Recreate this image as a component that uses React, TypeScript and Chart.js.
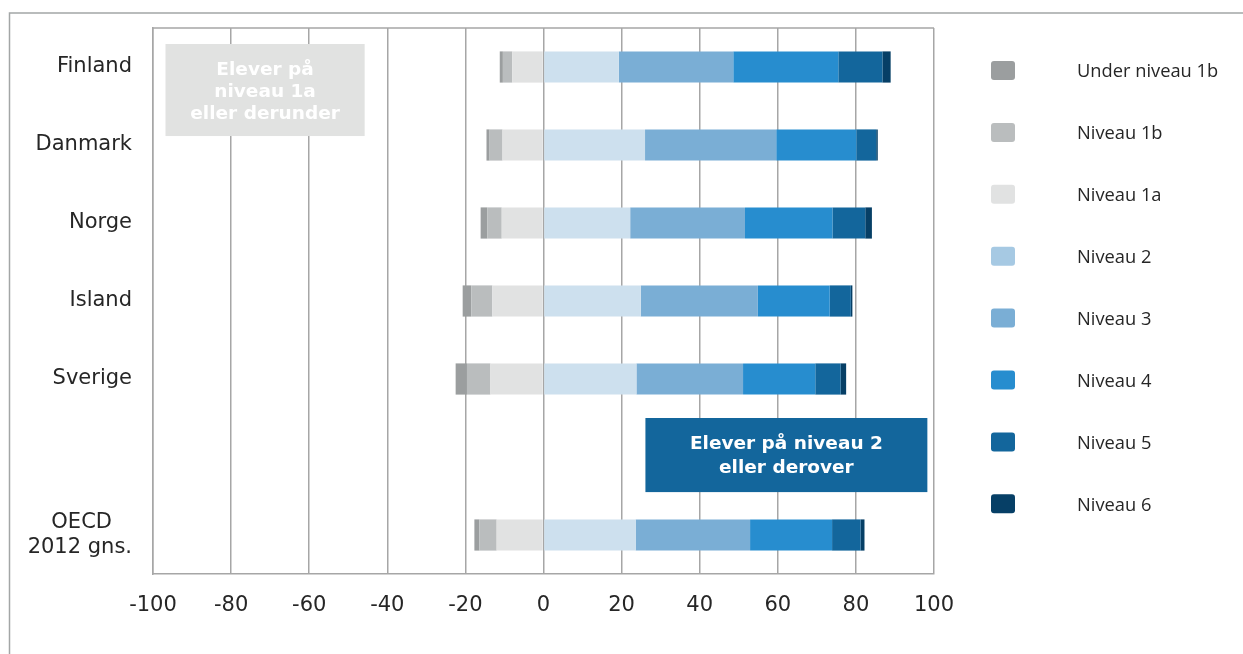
import React, { useEffect, useRef } from "react";
import { Chart, registerables } from "chart.js";

Chart.register(...registerables);

// ---- Data ----
const categories: (string | string[])[] = [
  "Finland",
  "Danmark",
  "Norge",
  "Island",
  "Sverige",
  "",
  ["OECD   ", "2012 gns."],
];

const underNiveau1b = [-0.8, -0.8, -1.7, -2.2, -2.9, null, -1.3];
const niveau1b = [-2.4, -3.3, -3.7, -5.4, -6.0, null, -4.4];
const niveau1a = [-8.0, -10.5, -10.7, -13.1, -13.6, null, -12.0];
const niveau2 = [19.3, 26.0, 22.2, 24.9, 23.8, null, 23.6];
const niveau3 = [29.3, 33.6, 29.4, 30.0, 27.3, null, 29.3];
const niveau4 = [26.9, 20.5, 22.4, 18.4, 18.5, null, 21.0];
const niveau5 = [11.3, 5.1, 8.4, 5.4, 6.5, null, 7.3];
const niveau6 = [2.1, 0.4, 1.7, 0.4, 1.4, null, 1.0];

const seriesLabels = [
  "Under niveau 1b",
  "Niveau 1b",
  "Niveau 1a",
  "Niveau 2",
  "Niveau 3",
  "Niveau 4",
  "Niveau 5",
  "Niveau 6",
];

const xTickValues = [-100, -80, -60, -40, -20, 0, 20, 40, 60, 80, 100];

const annotationLow = ["Elever på", "niveau 1a", "eller derunder"];
const annotationHigh = ["Elever på niveau 2", "eller derover"];

// ---- Styles ----
const barColors = [
  "#9b9e9f",
  "#babdbe",
  "#e1e2e2",
  "#cde0ee",
  "#7aaed5",
  "#278dcf",
  "#13669c",
  "#063f66",
];
const legendColors = [
  "#9b9e9f",
  "#babdbe",
  "#e1e2e2",
  "#a6c9e3",
  "#7aaed5",
  "#278dcf",
  "#13669c",
  "#063f66",
];
// stacking order: negatives stack outward from 0 (1a nearest zero)
const stackOrder = [2, 1, 0, 3, 4, 5, 6, 7];

const GRID = "#a6a6a6";
const TEXT = "#262626";

const decorPlugin = {
  id: "decor",
  beforeDraw(chart: any) {
    const ctx = chart.ctx;
    ctx.save();
    ctx.fillStyle = "#ffffff";
    ctx.fillRect(0, 0, chart.width, chart.height);
    ctx.strokeStyle = "#a3a6a6";
    ctx.lineWidth = 1.5;
    ctx.beginPath();
    ctx.moveTo(9.5, chart.height);
    ctx.lineTo(9.5, 13);
    ctx.lineTo(chart.width, 13);
    ctx.stroke();
    ctx.restore();
  },
  beforeDatasetsDraw(chart: any) {
    const ctx = chart.ctx;
    const { left, right, top } = chart.chartArea;
    const xs = chart.scales.x;
    const ys = chart.scales.y;
    ctx.save();
    ctx.strokeStyle = GRID;
    ctx.lineWidth = 1.5;
    ctx.beginPath();
    ctx.moveTo(left, top);
    ctx.lineTo(right, top);
    ctx.stroke();

    const boxes = [
      { x0: -96.8, x1: -45.8, y0: -0.295, y1: 0.885, fill: "#e1e2e1", lines: annotationLow, lh: 22, dy: 2 },
      { x0: 26.1, x1: 98.3, y0: 4.5, y1: 5.45, fill: "#13669c", lines: annotationHigh, lh: 24, dy: 1.5 },
    ];
    boxes.forEach((b) => {
      const px0 = xs.getPixelForValue(b.x0);
      const px1 = xs.getPixelForValue(b.x1);
      const py0 = ys.getPixelForValue(b.y0);
      const py1 = ys.getPixelForValue(b.y1);
      ctx.fillStyle = b.fill;
      ctx.fillRect(px0, py0, px1 - px0, py1 - py0);
      ctx.fillStyle = "#ffffff";
      ctx.font = 'bold 18.5px "DejaVu Sans"';
      ctx.textAlign = "center";
      ctx.textBaseline = "middle";
      const cx = (px0 + px1) / 2;
      const cy = (py0 + py1) / 2 + b.dy;
      const n = b.lines.length;
      b.lines.forEach((t, i) => {
        ctx.fillText(t, cx, cy + (i - (n - 1) / 2) * b.lh);
      });
    });
    ctx.restore();
  },
  afterDraw(chart: any) {
    const ctx = chart.ctx;
    ctx.save();
    const datasets = chart.data.datasets;
    datasets.forEach((ds: any, i: number) => {
      const cy = 72 + i * 61.9;
      ctx.fillStyle = ds.legendColor;
      const bx = 991, bw = 24, bh = 19;
      const by = cy - 11;
      const r = 3;
      ctx.beginPath();
      ctx.moveTo(bx + r, by);
      ctx.lineTo(bx + bw - r, by);
      ctx.quadraticCurveTo(bx + bw, by, bx + bw, by + r);
      ctx.lineTo(bx + bw, by + bh - r);
      ctx.quadraticCurveTo(bx + bw, by + bh, bx + bw - r, by + bh);
      ctx.lineTo(bx + r, by + bh);
      ctx.quadraticCurveTo(bx, by + bh, bx, by + bh - r);
      ctx.lineTo(bx, by + r);
      ctx.quadraticCurveTo(bx, by, bx + r, by);
      ctx.closePath();
      ctx.fill();
      ctx.fillStyle = TEXT;
      ctx.font = '18.3px "Open Sans"';
      ctx.textAlign = "left";
      ctx.textBaseline = "middle";
      ctx.fillText(ds.label, 1077, cy);
    });
    ctx.restore();
  },
};

export default function App() {
  const canvasRef = useRef<HTMLCanvasElement | null>(null);

  useEffect(() => {
    if (!canvasRef.current) return;
    const series = [underNiveau1b, niveau1b, niveau1a, niveau2, niveau3, niveau4, niveau5, niveau6];
    const chart = new Chart(canvasRef.current, {
      type: "bar",
      data: {
        labels: categories as any,
        datasets: series.map((d, i) => ({
          label: seriesLabels[i],
          data: d as any,
          backgroundColor: barColors[i],
          legendColor: legendColors[i],
          order: stackOrder[i],
          borderWidth: 0,
          barPercentage: 0.4,
          categoryPercentage: 1,
        })) as any,
      },
      options: {
        indexAxis: "y",
        responsive: false,
        animation: false,
        layout: { padding: { left: 0, top: 28, right: 309, bottom: 0 } },
        plugins: {
          legend: { display: false },
          tooltip: { enabled: false },
        },
        scales: {
          x: {
            type: "linear",
            stacked: true,
            min: -100,
            max: 100,
            afterBuildTicks: (scale: any) => {
              scale.ticks = xTickValues.map((v) => ({ value: v }));
            },
            afterFit: (scale: any) => {
              scale.height = 80;
              scale.paddingLeft = 0;
              scale.paddingRight = 0;
            },
            grid: { color: GRID, lineWidth: 1.5, drawTicks: false },
            border: { display: true, color: GRID, width: 1.5 },
            ticks: {
              padding: 19,
              color: TEXT,
              font: { family: "DejaVu Sans", size: 21 },
              callback: (v: any) => String(v),
            },
          },
          y: {
            type: "category",
            stacked: true,
            offset: true,
            afterFit: (scale: any) => {
              scale.width = 153;
              scale.paddingTop = 0;
              scale.paddingBottom = 0;
            },
            grid: { display: false, drawTicks: false },
            border: { display: true, color: GRID, width: 1.5 },
            ticks: {
              padding: 21,
              color: TEXT,
              font: { family: "DejaVu Sans", size: 21 },
              autoSkip: false,
            },
          },
        },
      } as any,
      plugins: [decorPlugin],
    });
    return () => chart.destroy();
  }, []);

  return (
    <div style={{ position: "fixed", left: 0, top: 0, width: 1243, height: 654 }}>
      <canvas ref={canvasRef} width={1243} height={654} style={{ display: "block" }} />
    </div>
  );
}
